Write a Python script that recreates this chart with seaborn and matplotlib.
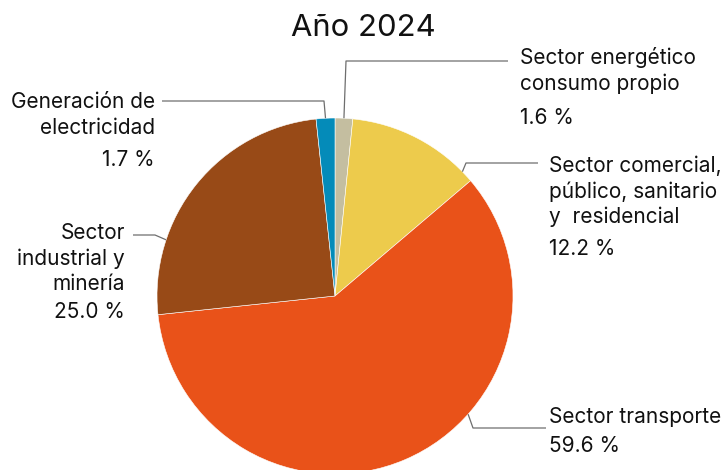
import numpy as np
import matplotlib
matplotlib.use("Agg")
import matplotlib.pyplot as plt
import seaborn as sns

# Energy consumption share by sector, year 2024
sectors = [
    "Sector energético\nconsumo propio",
    "Sector comercial,\npúblico, sanitario\ny  residencial",
    "Sector transporte",
    "Sector\nindustrial y\nminería",
    "Generación de\nelectricidad",
]
shares = [1.6, 12.2, 59.6, 25.0, 1.7]
slice_colors = ["#C4BEA0", "#EDCB4C", "#E95219", "#984A17", "#048BB9"]
title = "Año 2024"

sns.set_theme(style="white")
plt.rcParams["font.family"] = ["Inter", "DejaVu Sans"]

W, H = 728, 470
fig = plt.figure(figsize=(W / 100, H / 100), dpi=100)
ax = fig.add_axes([0, 0, 1, 1])


def px(x, y):
    """Convert top-left pixel coordinates to axes data coordinates."""
    return x, H - y


cx, cy = px(335, 296)
radius = 178
wedges, _ = ax.pie(
    shares,
    colors=sns.color_palette(slice_colors),
    startangle=90,
    counterclock=False,
    center=(cx, cy),
    radius=radius,
    wedgeprops=dict(edgecolor="white", linewidth=0.4),
    frame=True,
)
ax.set_xlim(0, W)
ax.set_ylim(0, H)
ax.set_aspect("equal")
ax.axis("off")

ax.text(*px(363, 28), title, ha="center", va="center", fontsize=22.3, color="#111111")

# Leader layout: anchor angle on the rim (deg, clockwise from top), elbow, line end,
# text anchor x, first line y, alignment
layout = [
    dict(angle=None, elbow=(346, 61), end=(508, 61), tx=520, ty=58, ha="left", pct_gap=35),
    dict(angle=45.7, elbow=(466, 163), end=(538, 163), tx=549, ty=166, ha="left", pct_gap=32),
    dict(angle=131.6, elbow=(473, 428), end=(546, 428), tx=549, ty=417, ha="left", pct_gap=29),
    dict(angle=288.4, elbow=(155, 235), end=(133, 235), tx=125, ty=233, ha="right", pct_gap=28),
    dict(angle=None, elbow=(324, 101), end=(162, 101), tx=155, ty=102, ha="right", pct_gap=32),
]

line_gap = 25.5
fs = 15
for w, name, val, lay in zip(wedges, sectors, shares, layout):
    ang = lay["angle"]
    if ang is None:
        mid = 0.5 * (w.theta1 + w.theta2)
    else:
        mid = 90 - ang
    sx = cx + radius * np.cos(np.radians(mid))
    sy = cy + radius * np.sin(np.radians(mid))
    ex, ey = px(*lay["elbow"])
    fx, fy = px(*lay["end"])
    ax.plot([sx, ex, fx], [sy, ey, fy], color="#6E6E6E", lw=0.9,
            solid_capstyle="butt", zorder=3)
    lines = name.split("\n")
    y = lay["ty"]
    for ln in lines:
        ax.text(*px(lay["tx"], y), ln, ha=lay["ha"], va="center",
                fontsize=fs, color="#111111")
        y += line_gap
    y += lay["pct_gap"] - line_gap
    ax.text(*px(lay["tx"], y), f"{val:.1f} %", ha=lay["ha"], va="center",
            fontsize=fs, color="#111111")

fig.savefig("out.png", dpi=100, facecolor="white")
